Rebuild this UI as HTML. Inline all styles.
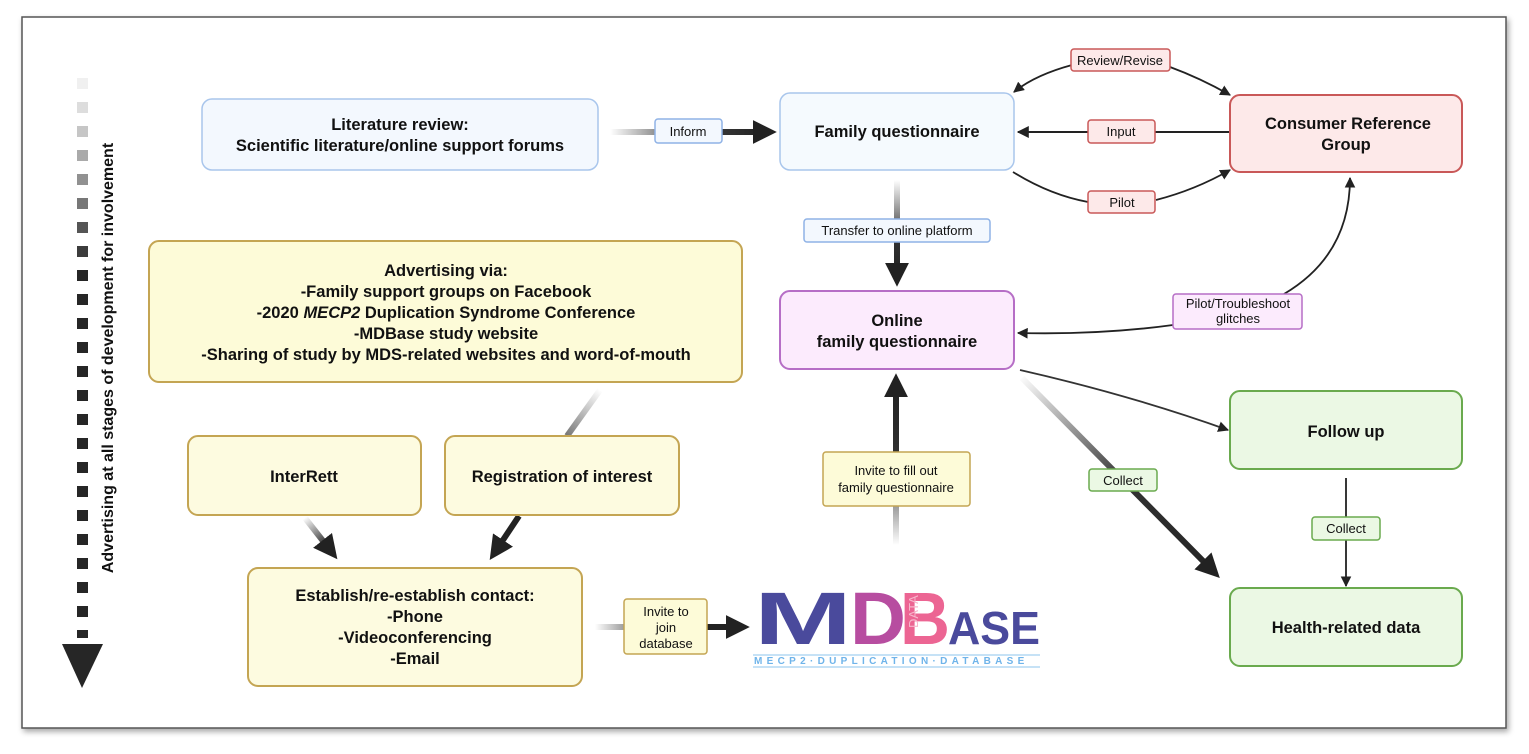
<!DOCTYPE html>
<html><head><meta charset="utf-8"><style>
html,body{margin:0;padding:0;background:#fff}
svg{display:block}
text{font-family:"Liberation Sans",sans-serif;fill:#111}
.b{font-weight:bold;font-size:16.5px}
.s{font-size:13px}
</style></head><body>
<svg width="1529" height="754" viewBox="0 0 1529 754" xmlns="http://www.w3.org/2000/svg">
<defs>
<linearGradient id="g1" gradientUnits="userSpaceOnUse" x1="610" y1="132" x2="765" y2="132"><stop offset="0" stop-color="#fff"/><stop offset="0.5" stop-color="#444"/><stop offset="1" stop-color="#222"/></linearGradient>
<linearGradient id="g2" gradientUnits="userSpaceOnUse" x1="897" y1="180" x2="897" y2="276"><stop offset="0" stop-color="#fff"/><stop offset="0.6" stop-color="#333"/><stop offset="1" stop-color="#222"/></linearGradient>
<linearGradient id="g3" gradientUnits="userSpaceOnUse" x1="896" y1="545" x2="896" y2="385"><stop offset="0" stop-color="#fff"/><stop offset="0.5" stop-color="#333"/><stop offset="1" stop-color="#222"/></linearGradient>
<linearGradient id="g4" gradientUnits="userSpaceOnUse" x1="595" y1="627" x2="738" y2="627"><stop offset="0" stop-color="#fff"/><stop offset="0.25" stop-color="#888"/><stop offset="0.5" stop-color="#222"/><stop offset="1" stop-color="#222"/></linearGradient>
<linearGradient id="gd" gradientUnits="userSpaceOnUse" x1="1020" y1="376" x2="1228" y2="585"><stop offset="0" stop-color="#fff"/><stop offset="0.5" stop-color="#333"/><stop offset="1" stop-color="#222"/></linearGradient>
<linearGradient id="gr" gradientUnits="userSpaceOnUse" x1="600" y1="390" x2="567" y2="436"><stop offset="0" stop-color="#fff"/><stop offset="1" stop-color="#777"/></linearGradient>
<linearGradient id="gi" gradientUnits="userSpaceOnUse" x1="305" y1="518" x2="340" y2="565"><stop offset="0" stop-color="#fff"/><stop offset="0.6" stop-color="#222"/></linearGradient>
<marker id="ah" viewBox="0 0 10 10" refX="9" refY="5" markerWidth="6" markerHeight="6" orient="auto"><path d="M0,0L10,5L0,10z" fill="#222"/></marker>
<marker id="aH" viewBox="0 0 10 10" refX="3" refY="5" markerWidth="4" markerHeight="4" orient="auto"><path d="M0,0L10,5L0,10z" fill="#222"/></marker>
<filter id="sh"><feDropShadow dx="2" dy="3" stdDeviation="3" flood-opacity="0.35"/></filter>
</defs>
<rect x="22" y="17" width="1484" height="711" fill="#fff" stroke="#555" stroke-width="1.5" filter="url(#sh)"/>

<g>
<rect x="77" y="78" width="11" height="11" fill="#f0f0f0"/>
<rect x="77" y="102" width="11" height="11" fill="#ddd"/>
<rect x="77" y="126" width="11" height="11" fill="#c6c6c6"/>
<rect x="77" y="150" width="11" height="11" fill="#aaa"/>
<rect x="77" y="174" width="11" height="11" fill="#919191"/>
<rect x="77" y="198" width="11" height="11" fill="#777"/>
<rect x="77" y="222" width="11" height="11" fill="#555"/>
<rect x="77" y="246" width="11" height="11" fill="#3c3c3c"/>
<g fill="#262626">
<rect x="77" y="270" width="11" height="11"/><rect x="77" y="294" width="11" height="11"/><rect x="77" y="318" width="11" height="11"/><rect x="77" y="342" width="11" height="11"/><rect x="77" y="366" width="11" height="11"/><rect x="77" y="390" width="11" height="11"/><rect x="77" y="414" width="11" height="11"/><rect x="77" y="438" width="11" height="11"/><rect x="77" y="462" width="11" height="11"/><rect x="77" y="486" width="11" height="11"/><rect x="77" y="510" width="11" height="11"/><rect x="77" y="534" width="11" height="11"/><rect x="77" y="558" width="11" height="11"/><rect x="77" y="582" width="11" height="11"/><rect x="77" y="606" width="11" height="11"/><rect x="77" y="630" width="11" height="8"/>
<path d="M62,644L103,644L82,688z"/>
</g>
<text transform="translate(113,358) rotate(-90)" text-anchor="middle" style="font-size:16px;font-weight:bold">Advertising at all stages of development for involvement</text>
</g>

<line x1="610" y1="132" x2="760" y2="132" stroke="url(#g1)" stroke-width="6" marker-end="url(#aH)"/>
<line x1="1230" y1="132" x2="1018" y2="132" stroke="#222" stroke-width="2" marker-end="url(#ah)"/>
<path d="M1072,65 Q1035,75 1014,92" fill="none" stroke="#222" stroke-width="1.8" marker-end="url(#ah)"/>
<path d="M1170,67 Q1200,78 1230,95" fill="none" stroke="#222" stroke-width="1.8" marker-end="url(#ah)"/>
<path d="M1013,172 Q1050,195 1088,202" fill="none" stroke="#222" stroke-width="1.8"/>
<path d="M1156,200 Q1195,190 1230,170" fill="none" stroke="#222" stroke-width="1.8" marker-end="url(#ah)"/>
<line x1="897" y1="180" x2="897" y2="270" stroke="url(#g2)" stroke-width="6" marker-end="url(#aH)"/>
<line x1="896" y1="545" x2="896" y2="390" stroke="url(#g3)" stroke-width="6" marker-end="url(#aH)"/>
<path d="M1173,325 Q1100,335 1018,333" fill="none" stroke="#222" stroke-width="1.8" marker-end="url(#ah)"/>
<path d="M1284,294 Q1350,255 1350,178" fill="none" stroke="#222" stroke-width="1.8" marker-end="url(#ah)"/>
<path d="M1020,370 Q1130,395 1228,430" fill="none" stroke="#333" stroke-width="1.8" marker-end="url(#ah)"/>
<line x1="1022" y1="378" x2="1208" y2="566" stroke="url(#gd)" stroke-width="6" marker-end="url(#aH)"/>
<line x1="1346" y1="478" x2="1346" y2="586" stroke="#222" stroke-width="1.8" marker-end="url(#ah)"/>
<line x1="600" y1="390" x2="567" y2="436" stroke="url(#gr)" stroke-width="6"/>
<line x1="305" y1="518" x2="327" y2="546" stroke="url(#gi)" stroke-width="6" marker-end="url(#aH)"/>
<line x1="519" y1="516" x2="499" y2="546" stroke="#222" stroke-width="6" marker-end="url(#aH)"/>
<line x1="595" y1="627" x2="733" y2="627" stroke="url(#g4)" stroke-width="6" marker-end="url(#aH)"/>

<rect x="202" y="99" width="396" height="71" rx="10" fill="#f3f8fe" stroke="#a9c6ec" stroke-width="1.5"/>
<text class="b" x="400" y="130" text-anchor="middle">Literature review:</text>
<text class="b" x="400" y="151" text-anchor="middle">Scientific literature/online support forums</text>

<rect x="780" y="93" width="234" height="77" rx="10" fill="#f5fafe" stroke="#a9c6ec" stroke-width="1.5"/>
<text class="b" x="897" y="137" text-anchor="middle">Family questionnaire</text>

<rect x="1230" y="95" width="232" height="77" rx="10" fill="#fde9e9" stroke="#c95858" stroke-width="2"/>
<text class="b" x="1348" y="129" text-anchor="middle">Consumer Reference</text>
<text class="b" x="1346" y="150" text-anchor="middle">Group</text>

<rect x="149" y="241" width="593" height="141" rx="10" fill="#fdfbd8" stroke="#c4a553" stroke-width="2"/>
<text class="b" x="446" y="276" text-anchor="middle">Advertising via:</text>
<text class="b" x="446" y="297" text-anchor="middle">-Family support groups on Facebook</text>
<text class="b" x="446" y="318" text-anchor="middle">-2020 <tspan font-style="italic">MECP2</tspan> Duplication Syndrome Conference</text>
<text class="b" x="446" y="339" text-anchor="middle">-MDBase study website</text>
<text class="b" x="446" y="360" text-anchor="middle">-Sharing of study by MDS-related websites and word-of-mouth</text>

<rect x="780" y="291" width="234" height="78" rx="10" fill="#fcebfd" stroke="#b66ec6" stroke-width="2"/>
<text class="b" x="897" y="326" text-anchor="middle">Online</text>
<text class="b" x="897" y="347" text-anchor="middle">family questionnaire</text>

<rect x="188" y="436" width="233" height="79" rx="10" fill="#fdfbe0" stroke="#c4a553" stroke-width="2"/>
<text class="b" x="304" y="482" text-anchor="middle">InterRett</text>
<rect x="445" y="436" width="234" height="79" rx="10" fill="#fdfbe0" stroke="#c4a553" stroke-width="2"/>
<text class="b" x="562" y="482" text-anchor="middle">Registration of interest</text>

<rect x="248" y="568" width="334" height="118" rx="10" fill="#fdfbe0" stroke="#c4a553" stroke-width="2"/>
<text class="b" x="415" y="601" text-anchor="middle">Establish/re-establish contact:</text>
<text class="b" x="415" y="622" text-anchor="middle">-Phone</text>
<text class="b" x="415" y="643" text-anchor="middle">-Videoconferencing</text>
<text class="b" x="415" y="664" text-anchor="middle">-Email</text>

<rect x="1230" y="391" width="232" height="78" rx="10" fill="#ebf8e4" stroke="#6aaa4e" stroke-width="2"/>
<text class="b" x="1346" y="437" text-anchor="middle">Follow up</text>
<rect x="1230" y="588" width="232" height="78" rx="10" fill="#ebf8e4" stroke="#6aaa4e" stroke-width="2"/>
<text class="b" x="1346" y="633" text-anchor="middle">Health-related data</text>

<rect x="655" y="119" width="67" height="24" rx="3" fill="#f3f8fe" stroke="#8fb2e6" stroke-width="1.5"/>
<text class="s" x="688" y="136" text-anchor="middle">Inform</text>
<rect x="1071" y="49" width="99" height="22" rx="3" fill="#fde9e9" stroke="#c95858" stroke-width="1.5"/>
<text class="s" x="1120" y="65" text-anchor="middle">Review/Revise</text>
<rect x="1088" y="120" width="67" height="23" rx="3" fill="#fde9e9" stroke="#c95858" stroke-width="1.5"/>
<text class="s" x="1121" y="136" text-anchor="middle">Input</text>
<rect x="1088" y="191" width="67" height="22" rx="3" fill="#fde9e9" stroke="#c95858" stroke-width="1.5"/>
<text class="s" x="1122" y="207" text-anchor="middle">Pilot</text>
<rect x="804" y="219" width="186" height="23" rx="3" fill="#f3f8fe" stroke="#8fb2e6" stroke-width="1.5"/>
<text class="s" x="897" y="235" text-anchor="middle">Transfer to online platform</text>
<rect x="1173" y="294" width="129" height="35" rx="3" fill="#fcebfd" stroke="#b66ec6" stroke-width="1.5"/>
<text class="s" x="1238" y="308" text-anchor="middle">Pilot/Troubleshoot</text>
<text class="s" x="1238" y="323" text-anchor="middle">glitches</text>
<rect x="1089" y="469" width="68" height="22" rx="3" fill="#ebf8e4" stroke="#6aaa4e" stroke-width="1.5"/>
<text class="s" x="1123" y="485" text-anchor="middle">Collect</text>
<rect x="1312" y="517" width="68" height="23" rx="3" fill="#ebf8e4" stroke="#6aaa4e" stroke-width="1.5"/>
<text class="s" x="1346" y="533" text-anchor="middle">Collect</text>
<rect x="823" y="452" width="147" height="54" rx="3" fill="#fdfbd8" stroke="#c4a553" stroke-width="1.5"/>
<text class="s" x="896" y="475" text-anchor="middle">Invite to fill out</text>
<text class="s" x="896" y="492" text-anchor="middle">family questionnaire</text>
<rect x="624" y="599" width="83" height="55" rx="3" fill="#fdfbd8" stroke="#c4a553" stroke-width="1.5"/>
<text class="s" x="666" y="616" text-anchor="middle">Invite to</text>
<text class="s" x="666" y="632" text-anchor="middle">join</text>
<text class="s" x="666" y="648" text-anchor="middle">database</text>

<text x="754" y="644" style="font-size:74px;font-weight:bold;fill:#4a4a9c" textLength="98" lengthAdjust="spacingAndGlyphs">M</text>
<text x="850" y="644" style="font-size:74px;font-weight:bold;fill:#b74da0" textLength="56" lengthAdjust="spacingAndGlyphs">D</text>
<text x="900" y="644" style="font-size:74px;font-weight:bold;fill:#ec6593" textLength="50" lengthAdjust="spacingAndGlyphs">B</text>
<text x="948" y="644" style="font-size:46px;font-weight:bold;fill:#4a4a9c" textLength="92" lengthAdjust="spacingAndGlyphs">ASE</text>
<text transform="translate(918,628) rotate(-90)" style="font-size:13px;fill:#f7b6cc">DATA</text>
<line x1="753" y1="655" x2="1040" y2="655" stroke="#8ec5ee" stroke-width="1"/>
<text x="754" y="664" style="font-size:10px;fill:#6fb4ea;font-weight:bold;letter-spacing:4.3px">MECP2·DUPLICATION·DATABASE</text>
<line x1="753" y1="667" x2="1040" y2="667" stroke="#8ec5ee" stroke-width="1"/>
</svg>
</body></html>
